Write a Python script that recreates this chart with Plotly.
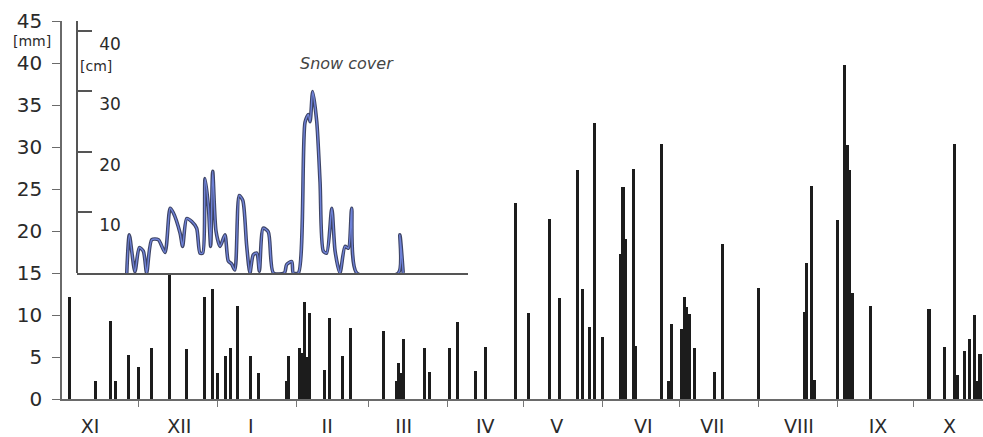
import plotly.graph_objects as go

# ---- data ----
# daily precipitation [mm]; day index counted from 1 November (hydrological year)
rain_day = [3, 13, 19, 21, 26, 30, 35, 42, 49, 56, 59, 61, 64, 66, 69, 74, 77,
            88, 89, 93, 94, 95, 96, 97, 103, 105, 110, 113, 126, 131, 132, 133, 134,
            142, 144, 152, 155, 162, 166, 178, 183, 191, 195, 202, 204, 207, 209, 212,
            219, 220, 221, 224, 225, 235, 238, 239, 243, 244, 245, 246, 248, 256, 259,
            273, 291, 292, 294, 295, 304, 307, 308, 309, 310, 317, 340, 346, 350, 351,
            354, 356, 358, 359, 360]
rain_mm = [12.2, 2.2, 9.3, 2.2, 5.2, 3.8, 6.1, 15, 6, 12.2, 13.1, 3.1, 5.1, 6.1, 11.1, 5.1, 3.1,
           2.1, 5.1, 6.1, 5.5, 11.5, 5, 10.2, 3.5, 9.7, 5.1, 8.4, 8.1, 2.1, 4.3, 3.1, 7.2,
           6.1, 3.2, 6.1, 9.2, 3.3, 6.2, 23.3, 10.2, 21.4, 12, 27.3, 13.1, 8.6, 32.9, 7.4,
           17.3, 25.2, 19.1, 27.4, 6.3, 30.4, 2.2, 8.9, 8.3, 12.2, 11, 10.1, 6.1, 3.2, 18.4,
           13.2, 10.3, 16.2, 25.3, 2.3, 21.3, 39.8, 30.2, 27.3, 12.6, 11.1, 10.7, 6.2, 30.3, 2.8,
           5.7, 7.1, 10, 2.2, 5.3]

# snow cover depth [cm]
snow_day = [25.4, 26.4, 28.6, 30.3, 31.9, 33.2, 35.2, 37.8, 40.4, 42.4, 43.6, 46.3, 47.3,
            48.9, 50.9, 52.8, 54.1, 55.2, 56.1, 57.4, 58.3, 59.1, 60.4, 62.0, 63.9, 65.2,
            66.5, 67.8, 69.5, 70.9, 72.4, 73.7, 75.0, 76.4, 77.4, 78.9, 80.9, 82.9, 87.2,
            88.1, 90.1, 90.7, 92.7, 95.3, 96.6, 97.3, 98.3, 99.9, 101.2, 102.5, 103.8, 105.8,
            107.1, 109.0, 111.0, 112.3, 113.6, 115.6, 131.9, 132.5, 133.8]
snow_cm = [0, 6.3, 0.2, 4.2, 3.6, 0, 5.5, 5.5, 3.4, 10.7, 10, 6.6, 4.4,
           9, 8.5, 7.4, 3.3, 3.3, 15.6, 11, 4.4, 16.8, 6.9, 4.4, 6.3, 2,
           1.5, 0.5, 12.8, 12, 4.6, 0, 3, 3.3, 0.3, 7.4, 6.8, 0, 0,
           1.4, 1.9, 0, 0, 24.9, 26.2, 25, 30, 25, 15, 3.6, 3.3, 10.7,
           3.6, 0, 4.4, 4.1, 10.7, 0, 0, 6.3, 0]

month_label_pos = [11, 46, 74, 104, 134, 166, 194, 228, 255, 289, 320, 348]
month_labels = ["XI", "XII", "I", "II", "III", "IV", "V", "VI", "VII", "VIII", "IX", "X"]
month_bounds = [30, 61, 92, 120, 151, 181, 212, 242, 273, 304, 334]

mm_ticks = [0, 5, 10, 15, 20, 25, 30, 35, 40, 45]
cm_ticks = [10, 20, 30, 40]

# ---- figure ----
FONT = "DejaVu Sans"
W, H = 983, 437
L, R, T, B = 62, 0, 21, 35
pw = W - L - R
ph = H - T - B
px_per_day = 2.55
x_max = pw / px_per_day

inset_left_px = 77 - L
inset_right_px = 468 - L
inset_base_px = 275            # pixel row of the inset baseline
cm_px = 6.1

fig = go.Figure()

fig.add_trace(go.Bar(
    x=rain_day, y=rain_mm, width=1.2,
    marker=dict(color="#1c1c1c", line=dict(width=0)),
    xaxis="x", yaxis="y", showlegend=False,
))

fig.add_trace(go.Scatter(
    x=snow_day, y=snow_cm, mode="lines",
    line=dict(color="#3d4466", width=3.6, shape="spline", smoothing=0.7),
    xaxis="x2", yaxis="y2", showlegend=False, hoverinfo="skip",
))
fig.add_trace(go.Scatter(
    x=snow_day, y=snow_cm, mode="lines",
    line=dict(color="#6f82d8", width=1.4, shape="spline", smoothing=0.7),
    xaxis="x2", yaxis="y2", showlegend=False,
))

y2_bottom = (H - B - inset_base_px) / ph
y2_top_cm = (inset_base_px - T) / cm_px

fig.update_layout(
    width=W, height=H,
    margin=dict(l=L, r=R, t=T, b=B, pad=0),
    paper_bgcolor="white", plot_bgcolor="white",
    font=dict(family=FONT, color="#2a2a2a"),
    bargap=0,
    xaxis=dict(
        domain=[0, 1], range=[0, x_max], anchor="y",
        showline=True, linecolor="#6a6a6a", linewidth=1.5,
        showgrid=False, zeroline=False,
        tickmode="array", tickvals=month_label_pos, ticktext=month_labels,
        ticks="", ticklabelstandoff=9,
        tickfont=dict(family=FONT, size=19, color="#2a2a2a"),
        minor=dict(tickmode="array", tickvals=month_bounds, ticks="outside",
                   ticklen=6, tickwidth=1.2, tickcolor="#777777"),
    ),
    yaxis=dict(
        domain=[0, 1], range=[0, 45], anchor="x",
        showline=True, linecolor="#6a6a6a", linewidth=1.5,
        showgrid=False, zeroline=False,
        tickmode="array", tickvals=mm_ticks,
        ticks="outside", ticklen=8, tickwidth=1.3, tickcolor="#6a6a6a",
        ticklabelstandoff=6,
        tickfont=dict(family=FONT, size=20, color="#2a2a2a"),
    ),
    xaxis2=dict(
        domain=[inset_left_px / pw, inset_right_px / pw],
        range=[inset_left_px / px_per_day, inset_right_px / px_per_day],
        anchor="y2", showline=True, linecolor="#555555", linewidth=2,
        showgrid=False, zeroline=False, showticklabels=False, ticks="",
    ),
    yaxis2=dict(
        domain=[y2_bottom, 1], range=[0, y2_top_cm],
        anchor="free", position=inset_left_px / pw, side="right",
        showline=True, linecolor="#555555", linewidth=1.5,
        showgrid=False, zeroline=False,
        tickmode="array", tickvals=cm_ticks,
        ticks="outside", ticklen=14, tickwidth=1.5, tickcolor="#555555",
        ticklabelposition="outside bottom", ticklabelstandoff=18,
        tickfont=dict(family=FONT, size=17, color="#2a2a2a"),
    ),
    annotations=[
        dict(text="[mm]", xref="paper", yref="paper",
             x=(32 - L) / pw, y=(H - B - 41) / ph, showarrow=False,
             xanchor="center", yanchor="middle",
             font=dict(family=FONT, size=14, color="#2a2a2a")),
        dict(text="[cm]", xref="paper", yref="paper",
             x=(96 - L) / pw, y=(H - B - 66) / ph, showarrow=False,
             xanchor="center", yanchor="middle",
             font=dict(family=FONT, size=14, color="#2a2a2a")),
        dict(text="Snow cover", xref="paper", yref="paper",
             x=(347 - L) / pw, y=(H - B - 64) / ph, showarrow=False,
             xanchor="center", yanchor="middle",
             font=dict(family=FONT, size=16, color="#444444", style="italic")),
    ],
)

fig.write_html("out.html")
